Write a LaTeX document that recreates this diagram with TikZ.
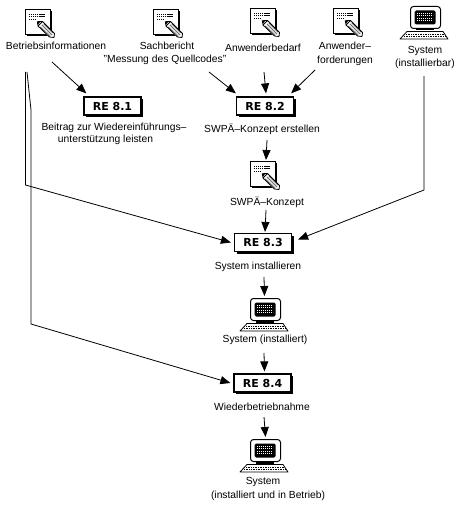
\documentclass[tikz,border=0pt]{standalone}
\usepackage{fontspec}
\setmainfont{Liberation Sans}
\newfontfamily\boxfont{DejaVu Sans}
\usetikzlibrary{arrows.meta,shadows}
\tikzset{
  lbl/.style={inner sep=0pt,text height=7.5pt,text depth=2pt,yshift=-.7pt,font=\fontsize{10.3}{12}\selectfont},
  rebox/.style={draw=black,line width=1.2pt,fill=white,minimum width=57pt,minimum height=18pt,inner sep=0pt,
    font=\boxfont\bfseries\fontsize{11}{12}\selectfont,
    general shadow={shadow xshift=2.4pt,shadow yshift=-2.4pt,fill=black}},
  pagebox/.style={draw=black,line width=1pt,fill=white,anchor=north west,minimum width=25pt,minimum height=25pt,inner sep=0pt,
    general shadow={shadow xshift=1.3pt,shadow yshift=-1.3pt,fill=black}},
  screenbox/.style={draw=black,line width=1pt,fill=white,anchor=north west,rounded corners=3pt,minimum width=30pt,minimum height=22pt,inner sep=0pt},
  flow/.style={line width=.8pt,-{Triangle[length=10pt,width=8pt]}},
  docicon/.pic={
    \draw[line width=.8pt,dash pattern=on 1.2pt off .7pt] (4,5)--(20,5) (4,7.5)--(20,7.5) (4,10)--(11,10);
    \fill[white] (12,13)--(17,12)--(29,24)--(29,28)--(24,28)--(12,17)--cycle;
    \draw[line width=.8pt,line join=round] (12.3,12.7)--(17.5,12.5)--(29.5,24.5)--(29,28.5)--(24.5,28)--(13,17)--cycle (13,17)--(17.5,12.5);
    \fill (12.3,12.7)--(15,13)--(13,15.5)--cycle;
    \draw[line width=1pt,dash pattern=on .7pt off .7pt] (17,16)--(27,26) (19,15)--(28,24) (15.5,18)--(25,27);
  },
  compicon/.pic={
    \fill[black,rounded corners=1.5pt] (4.5,4.5) rectangle (25.5,18.5);
    \draw[white,line width=.9pt,dash pattern=on 1.3pt off .7pt] (7,7)--(23,7) (7,9.5)--(23,9.5) (7,12)--(23,12) (7,14.5)--(23,14.5);
    \fill (6,22) rectangle (24,24.5);
    \draw[line width=.8pt,line join=round,fill=white] (-3,25.5)--(33,25.5)--(38,33)--(-10,33)--cycle;
    \draw[line width=.6pt,dash pattern=on .8pt off .9pt] (-4,28.5)--(34,28.5) (-6,30.5)--(36,30.5);
  },
}
\begin{document}
\begin{tikzpicture}[x=1pt,y=-1pt]
\useasboundingbox (0,0) rectangle (470,510);
% icons
\node[pagebox] (d1) at (25,9) {}; \pic at (25,9) {docicon};
\node[pagebox] (d2) at (153,9) {}; \pic at (153,9) {docicon};
\node[pagebox] (d3) at (250,8) {}; \pic at (250,8) {docicon};
\node[pagebox] (d4) at (333,8) {}; \pic at (333,8) {docicon};
\node[pagebox] (d5) at (250,161) {}; \pic at (250,161) {docicon};
\node[screenbox] (s1) at (410,6) {}; \pic at (410,6) {compicon};
\node[screenbox] (s2) at (250,298) {}; \pic at (250,298) {compicon};
\node[screenbox] (s3) at (250,439) {}; \pic at (250,439) {compicon};
% labels
\node[lbl] (t1) at (56,46) {Betriebsinformationen};
\node[lbl] (t2a) at (167,46) {Sachbericht};
\node[lbl] (t2b) at (165,59) {"Messung des Quellcodes"};
\node[lbl] (t3) at (263,48) {Anwenderbedarf};
\node[lbl] (t4a) at (345,46) {Anwender–};
\node[lbl] (t4b) at (345,60) {forderungen};
\node[lbl] (t5a) at (425,50) {System};
\node[lbl] (t5b) at (425,63) {(installierbar)};
\node[lbl] (t6a) at (114,127) {Beitrag zur Wiedereinführungs–};
\node[lbl] (t6b) at (105.5,139.5) {unterstützung leisten};
\node[lbl] (t7) at (262,129) {SWPÄ–Konzept erstellen};
\node[lbl] (t8) at (267,202) {SWPÄ–Konzept};
\node[lbl] (t9) at (258,266) {System installieren};
\node[lbl] (t10) at (265,339) {System (installiert)};
\node[lbl] (t11) at (262,407) {Wiederbetriebnahme};
\node[lbl] (t12a) at (263,481) {System};
\node[lbl] (t12b) at (268,495) {(installiert und in Betrieb)};
% boxes
\node[rebox] (re1) at (112.5,106) {RE 8.1};
\node[rebox] (re2) at (265,106) {RE 8.2};
\node[rebox] (re3) at (263,242.5) {RE 8.3};
\node[rebox] (re4) at (262.5,383) {RE 8.4};
% free ends
\coordinate (a1) at (52,62);
\coordinate (a2) at (209,72);
\coordinate (a3) at (264,72);
\coordinate (a4) at (315,70);
\coordinate (a5) at (267,140);
\coordinate (a6) at (266,210);
\coordinate (a7) at (264,277);
\coordinate (a8) at (264,353);
\coordinate (a9) at (264,417);
\coordinate (l1) at (25.5,72);
\coordinate (l1b) at (25.5,185);
\coordinate (l2) at (27,72);
\coordinate (l2b) at (31,110);
\coordinate (l2c) at (31,324);
\coordinate (r1) at (424,76);
\coordinate (r1b) at (424,190);
% connectors
\draw[flow] (a1) -- ([xshift=3pt,yshift=3pt]re1.north west);
\draw[flow] (a2) -- ([yshift=3pt]re2.north west);
\draw[flow] (a3) -- ([xshift=1pt,yshift=3pt]re2.north);
\draw[flow] (a4) -- ([xshift=-3pt,yshift=3pt]re2.north east);
\draw[flow] (a5) -- ([xshift=3pt,yshift=1pt]d5.north);
\draw[flow] (a6) -- ([xshift=2pt,yshift=1pt]re3.north);
\draw[flow] (a7) -- ([xshift=-1pt,yshift=2pt]s2.north);
\draw[flow] (a8) -- ([xshift=2pt,yshift=2pt]re4.north);
\draw[flow] (a9) -- ([yshift=2pt]s3.north);
\draw[flow] (l1) -- (l1b) -- ([xshift=-3pt]re3.west);
\draw[flow] (l2) -- (l2b) -- (l2c) -- ([xshift=-3pt]re4.west);
\draw[flow] (r1) -- (r1b) -- ([xshift=6pt,yshift=3pt]re3.east);
\end{tikzpicture}
\end{document}
